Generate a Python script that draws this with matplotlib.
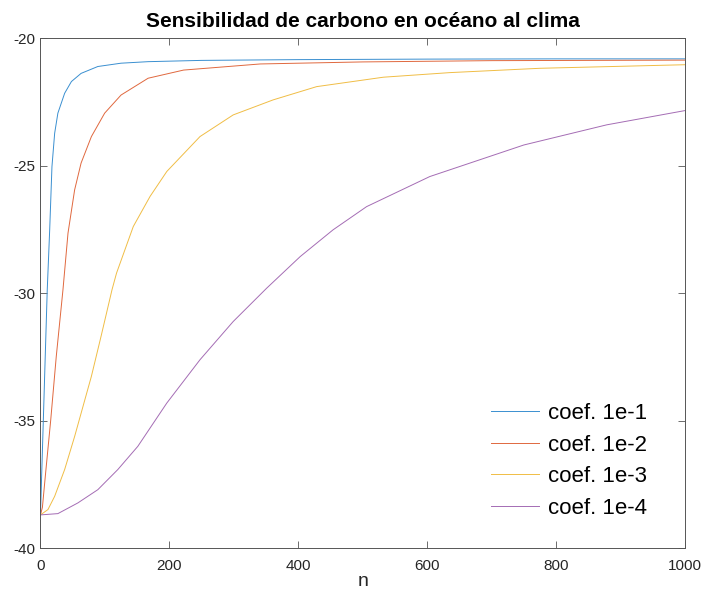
import matplotlib
matplotlib.use("Agg")
import matplotlib.pyplot as plt

plt.rcParams['font.family'] = ['Liberation Sans', 'DejaVu Sans']
plt.rcParams['axes.unicode_minus'] = False

# curves sampled along n for each coefficient
n_1 = [0, 2, 4.4, 7, 10.5, 14.3, 17.8, 22, 27, 37.5, 48, 63, 89, 125, 167, 250, 400, 600, 800, 1000]
c_1 = [-38.7, -37.0, -35.0, -32.8, -29.86, -27.5, -25.03, -23.72, -22.93, -22.15, -21.69, -21.37,
       -21.10, -20.97, -20.91, -20.86, -20.83, -20.81, -20.80, -20.80]

n_2 = [0, 3, 7.5, 15.8, 24.5, 34.9, 42.7, 53, 63, 79, 99.6, 125, 167, 222, 341, 500, 700, 1000]
c_2 = [-38.7, -38.4, -37.18, -35.0, -32.48, -29.86, -27.64, -25.94, -24.89, -23.85, -22.93, -22.22,
       -21.56, -21.24, -21.0, -20.92, -20.87, -20.85]

n_3 = [0, 11.6, 22, 37.5, 53, 79, 94, 111, 118, 144, 170, 196, 247.5, 299, 361, 428.5, 532, 635, 775, 1000]
c_3 = [-38.7, -38.49, -37.97, -36.92, -35.62, -33.26, -31.69, -29.86, -29.21, -27.38, -26.20, -25.22,
       -23.85, -23.0, -22.41, -21.89, -21.52, -21.34, -21.17, -21.03]

n_4 = [0, 27, 58, 89, 120, 151, 196, 247.5, 299, 351, 403, 454, 506, 604, 750, 878.5, 1000]
c_4 = [-38.70, -38.65, -38.23, -37.71, -36.92, -36.01, -34.31, -32.61, -31.11, -29.80, -28.56,
       -27.51, -26.60, -25.42, -24.18, -23.39, -22.83]

labels = ['coef. 1e-1', 'coef. 1e-2', 'coef. 1e-3', 'coef. 1e-4']
colors = ['#3a8fd0', '#e0683e', '#f0bd45', '#a46cb4']
xticks = [0, 200, 400, 600, 800, 1000]
yticks = [-40, -35, -30, -25, -20]

fig = plt.figure(figsize=(7.04, 5.92), dpi=100)
ax = fig.add_axes([0.0575, 0.0743, 0.9155, 0.8607])

for xs, ys, lab, col in zip([n_1, n_2, n_3, n_4], [c_1, c_2, c_3, c_4], labels, colors):
    ax.plot(xs, ys, color=col, lw=0.7, label=lab)

ax.set_xlim(0, 1000)
ax.set_ylim(-40, -20)
ax.set_xticks(xticks)
ax.set_yticks(yticks)
ax.tick_params(direction='in', top=True, right=True, length=5, width=0.6,
               color='#555555', labelcolor='#262626', labelsize=11)
ax.tick_params(axis='x', pad=8)
for s in ax.spines.values():
    s.set_color('#555555')
    s.set_linewidth(0.7)

ax.set_title('Sensibilidad de carbono en océano al clima', fontsize=15,
             fontweight='bold', pad=8)
ax.set_xlabel('n', fontsize=14, color='#262626', labelpad=0)

ax.legend(loc='lower right', bbox_to_anchor=(0.958, 0.036), frameon=False, fontsize=16,
          handlelength=2.15, handletextpad=0.4, labelspacing=0.47, borderpad=0)

fig.savefig('out.png', dpi=100)
